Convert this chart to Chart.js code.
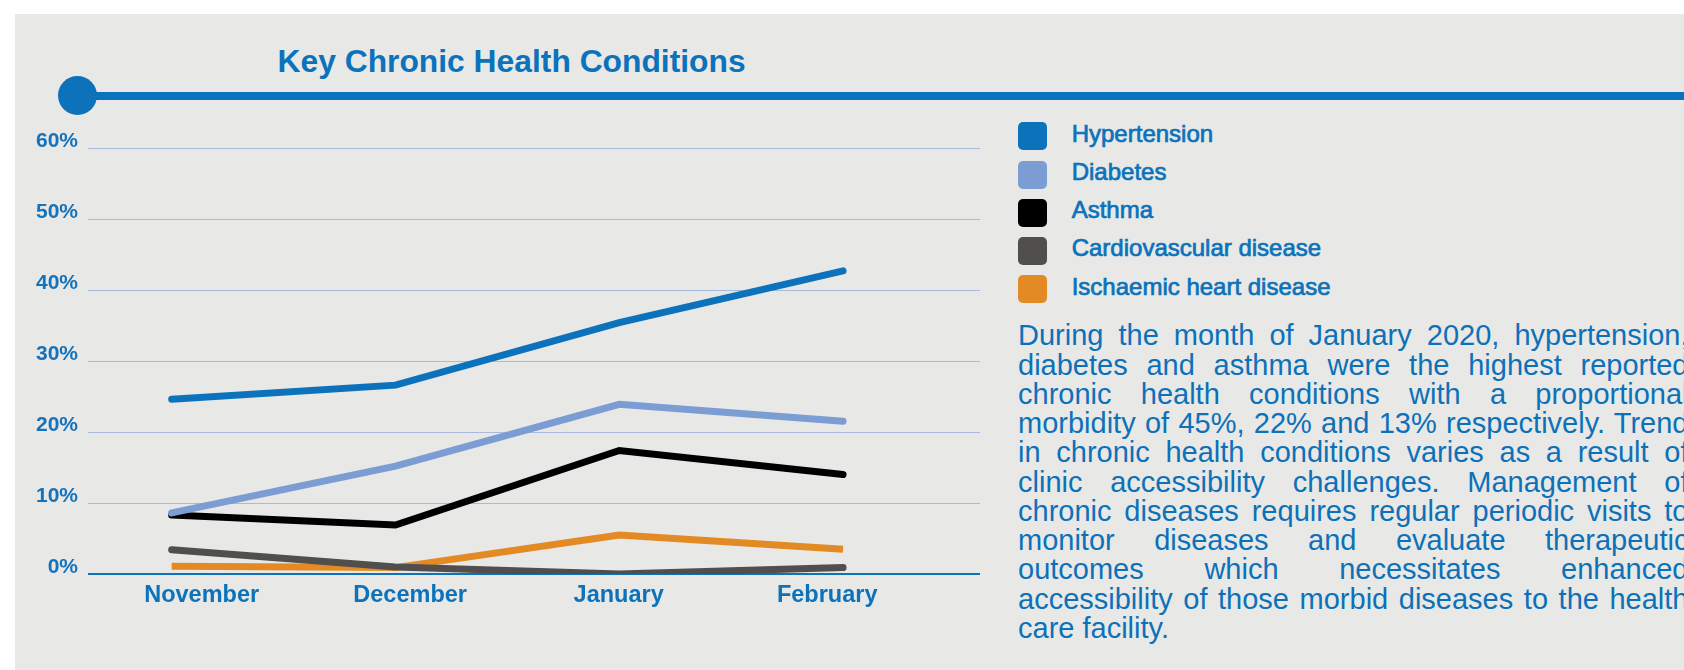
<!DOCTYPE html>
<html>
<head>
<meta charset="utf-8">
<script src="https://cdn.jsdelivr.net/npm/chart.js@4.4.1/dist/chart.umd.min.js"></script>
<style>
  html, body { margin: 0; padding: 0; background: #ffffff; width: 1684px; height: 670px; overflow: hidden; }
  body { position: relative; font-family: "Liberation Sans", Arial, sans-serif; }
  #panel { position: absolute; left: 15px; top: 14px; width: 1669px; height: 656px; background: #e8e8e6; }
  #rule { position: absolute; left: 80px; top: 91.5px; width: 1604px; height: 8px; background: #0b72bb; }
  #dot { position: absolute; left: 57.8px; top: 76px; width: 39px; height: 39px; border-radius: 50%; background: #0b72bb; }
  #title { position: absolute; left: 277.5px; top: 44.6px; line-height: 32px; font-size: 31.8px; font-weight: bold; color: #0b72bb; white-space: nowrap; }
  #chartBox { position: absolute; left: 0; top: 0; width: 980px; height: 670px; }
  #legend { position: absolute; left: 1017.7px; top: 121.5px; }
  .lrow { position: relative; height: 38.3px; }
  .lsw { position: absolute; left: 0; top: 0.8px; width: 29px; height: 28px; border-radius: 5px; }
  .ltx { position: absolute; left: 54px; top: 0; line-height: 24px; font-size: 24px; color: #0b72bb; white-space: nowrap; -webkit-text-stroke: 0.7px #0b72bb; }
  #para { position: absolute; left: 1018px; top: 321.3px; width: 670.5px; font-size: 29px; line-height: 29.25px; color: #0c71b9; }
  #para div { text-align: justify; text-align-last: justify; white-space: nowrap; }
  #para div.last { text-align-last: left; }
</style>
</head>
<body>
<div id="panel"></div>
<div id="rule"></div>
<div id="dot"></div>
<div id="title">Key Chronic Health Conditions</div>
<div id="chartBox"><canvas id="c" width="980" height="670" style="width:980px;height:670px"></canvas></div>
<div id="legend"></div>
<div id="para"></div>
<script>
// ---- data ----
const months = ['November', 'December', 'January', 'February'];
const seriesNames = ['Hypertension', 'Diabetes', 'Asthma', 'Cardiovascular disease', 'Ischaemic heart disease'];
const hypertension = [24.6, 26.6, 35.4, 42.7];
const diabetes = [8.6, 15.2, 23.9, 21.5];
const asthma = [8.3, 6.9, 17.4, 14.0];
const cardiovascular = [3.4, 1.0, 0.0, 0.9];
const ischaemic = [1.1, 0.9, 5.5, 3.5];
const yTickValues = [0, 10, 20, 30, 40, 50, 60];
const paragraphLines = [
  'During the month of January 2020, hypertension,',
  'diabetes and asthma were the highest reported',
  'chronic health conditions with a proportional',
  'morbidity of 45%, 22% and 13% respectively. Trend',
  'in chronic health conditions varies as a result of',
  'clinic accessibility challenges. Management of',
  'chronic diseases requires regular periodic visits to',
  'monitor diseases and evaluate therapeutic',
  'outcomes which necessitates enhanced',
  'accessibility of those morbid diseases to the health',
  'care facility.'
];

// ---- styles ----
const colors = ['#0b72bb', '#7b9dd3', '#000000', '#514f4e', '#e38a24'];
const caps = ['round', 'round', 'round', 'round', 'butt'];
const blue = '#0b72bb';
const values = [hypertension, diabetes, asthma, cardiovascular, ischaemic];

const datasets = values.map((arr, k) => ({
  label: seriesNames[k],
  data: arr.map((v, i) => ({ x: i, y: v })),
  borderColor: colors[k],
  backgroundColor: colors[k],
  borderWidth: 7,
  borderCapStyle: caps[k],
  borderJoinStyle: 'miter',
  pointRadius: 0,
  tension: 0,
  fill: false,
  xAxisID: 'x',
  yAxisID: 'y'
}));

new Chart(document.getElementById('c'), {
  type: 'line',
  data: { datasets },
  options: {
    responsive: false,
    animation: false,
    layout: { padding: { top: 148, left: 0, right: 0, bottom: 0 } },
    plugins: { legend: { display: false }, tooltip: { enabled: false }, title: { display: false } },
    scales: {
      x: { type: 'linear', min: -0.374, max: 3.612, display: false },
      xl: {
        type: 'linear', position: 'bottom', min: -0.545, max: 3.733,
        grid: { display: false, drawTicks: false },
        border: { display: false },
        afterBuildTicks: (a) => { a.ticks = months.map((m, i) => ({ value: i })); },
        afterFit: (a) => { a.height = 96; },
        ticks: {
          autoSkip: false, maxRotation: 0, minRotation: 0, padding: 7,
          color: blue,
          font: { family: 'Liberation Sans, Arial, sans-serif', size: 23.5, weight: 'bold' },
          callback: (v) => months[v]
        }
      },
      y: {
        type: 'linear', min: 0, max: 60,
        afterBuildTicks: (a) => { a.ticks = yTickValues.map(v => ({ value: v })); },
        afterFit: (a) => { a.width = 88; },
        border: { display: false },
        grid: {
          drawTicks: false,
          color: (ctx) => ctx.tick && ctx.tick.value === 0 ? blue : '#a8bbdf',
          lineWidth: (ctx) => ctx.tick && ctx.tick.value === 0 ? 2 : 1
        },
        ticks: {
          padding: 10, labelOffset: -7,
          color: '#1473ba',
          font: { family: 'Liberation Sans, Arial, sans-serif', size: 21, weight: 'bold' },
          callback: (v) => v + '%'
        }
      }
    }
  }
});

// ---- legend (HTML, from the series arrays) ----
const leg = document.getElementById('legend');
seriesNames.forEach((n, k) => {
  const r = document.createElement('div'); r.className = 'lrow';
  const s = document.createElement('div'); s.className = 'lsw'; s.style.background = colors[k];
  const t = document.createElement('div'); t.className = 'ltx'; t.textContent = n;
  r.appendChild(s); r.appendChild(t); leg.appendChild(r);
});

// ---- paragraph ----
const para = document.getElementById('para');
paragraphLines.forEach((l, i) => {
  const d = document.createElement('div');
  d.textContent = l;
  if (i === paragraphLines.length - 1) d.className = 'last';
  para.appendChild(d);
});
</script>
</body>
</html>
